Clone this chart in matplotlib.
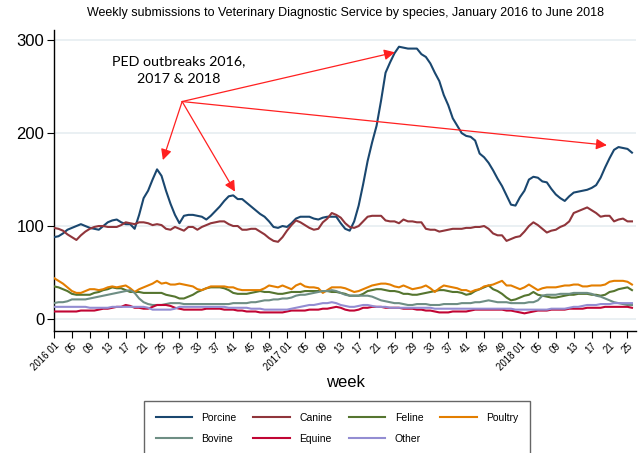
# Weekly submissions to VDS by species, 2016-01 to 2018-25
import matplotlib
matplotlib.use('Agg')
import matplotlib.pyplot as plt

plt.rcParams['font.family'] = ['Liberation Sans', 'DejaVu Sans']

# weekly counts, week index 0 = 2016 week 01
porcine = [88, 89, 92, 96, 98, 100, 102, 100, 98, 97,
           96, 100, 104, 106, 107, 104, 102, 102, 97, 112,
           130, 138, 150, 161, 154, 138, 124, 112, 103, 111,
           112, 112, 111, 110, 107, 111, 116, 121, 127, 132,
           133, 129, 129, 125, 121, 117, 113, 110, 105, 99,
           98, 100, 99, 103, 108, 110, 110, 110, 108, 107,
           109, 110, 110, 110, 103, 97, 95, 105, 122, 145,
           170, 190, 208, 235, 265, 276, 286, 293, 292, 291,
           291, 291, 285, 282, 275, 265, 256, 241, 230, 216,
           208, 200, 197, 196, 192, 178, 174, 168, 160, 151,
           143, 133, 123, 122, 131, 138, 150, 153, 152, 148,
           147, 140, 134, 130, 127, 132, 136, 137, 138, 139,
           141, 144, 152, 163, 173, 182, 185, 184, 183, 179]

canine = [98, 97, 95, 91, 88, 85, 90, 94, 97, 99,
          100, 100, 99, 99, 99, 101, 104, 103, 102, 104,
          104, 103, 101, 102, 101, 97, 96, 99, 97, 95,
          99, 99, 96, 99, 101, 103, 104, 105, 105, 102,
          100, 100, 96, 96, 97, 97, 94, 91, 87, 84,
          83, 88, 95, 101, 106, 104, 101, 98, 96, 97,
          104, 108, 114, 112, 109, 103, 99, 98, 100, 105,
          110, 111, 111, 111, 106, 105, 105, 103, 107, 105,
          105, 104, 104, 97, 96, 96, 94, 95, 96, 97,
          97, 97, 98, 98, 99, 99, 100, 97, 92, 90,
          90, 84, 86, 88, 89, 94, 100, 104, 101, 97,
          93, 95, 96, 99, 101, 105, 114, 116, 118, 120,
          117, 114, 110, 111, 111, 105, 107, 108, 105, 105]

feline = [35, 34, 32, 30, 27, 26, 26, 26, 26, 28,
          29, 31, 32, 34, 33, 33, 31, 29, 29, 29,
          28, 28, 28, 28, 28, 26, 25, 24, 22, 22,
          24, 26, 29, 31, 33, 34, 34, 34, 33, 31,
          28, 27, 27, 27, 28, 29, 30, 29, 29, 28,
          27, 27, 28, 29, 29, 29, 30, 30, 30, 30,
          30, 30, 29, 29, 28, 27, 25, 25, 25, 27,
          30, 31, 32, 32, 31, 30, 30, 29, 27, 27,
          26, 26, 27, 28, 29, 30, 31, 31, 30, 29,
          29, 28, 26, 27, 30, 32, 34, 36, 32, 30,
          27, 23, 20, 21, 23, 25, 26, 29, 26, 25,
          24, 23, 23, 24, 25, 26, 26, 27, 27, 27,
          26, 26, 25, 26, 29, 30, 32, 33, 34, 31]

poultry = [44, 41, 38, 34, 30, 28, 28, 30, 32, 32,
           31, 32, 34, 35, 34, 35, 36, 33, 29, 32,
           34, 36, 38, 41, 38, 39, 37, 37, 38, 37,
           36, 35, 32, 31, 33, 35, 35, 35, 35, 34,
           34, 32, 31, 31, 31, 31, 31, 33, 36, 35,
           34, 36, 34, 32, 36, 38, 35, 34, 34, 33,
           28, 31, 34, 34, 34, 33, 31, 29, 30, 32,
           34, 36, 37, 38, 38, 37, 35, 34, 36, 34,
           32, 33, 34, 36, 33, 29, 33, 36, 35, 34,
           33, 31, 31, 29, 31, 32, 35, 36, 37, 39,
           41, 36, 36, 34, 32, 34, 37, 34, 31, 33,
           34, 34, 34, 35, 36, 36, 37, 37, 35, 35,
           36, 36, 36, 37, 40, 41, 41, 41, 40, 37]

bovine = [17, 18, 18, 19, 21, 21, 21, 21, 22, 23,
          24, 25, 26, 27, 28, 29, 30, 31, 28, 22,
          18, 16, 15, 15, 15, 16, 17, 17, 17, 16,
          16, 16, 16, 16, 16, 16, 16, 16, 16, 16,
          17, 17, 17, 17, 18, 18, 19, 20, 20, 21,
          21, 22, 22, 23, 25, 26, 26, 27, 28, 29,
          30, 30, 31, 30, 28, 26, 25, 25, 25, 25,
          25, 24, 22, 20, 19, 18, 17, 17, 16, 15,
          15, 16, 16, 16, 15, 15, 15, 16, 16, 16,
          16, 17, 17, 17, 18, 18, 19, 20, 19, 18,
          18, 18, 17, 17, 17, 17, 18, 18, 20, 25,
          26, 26, 26, 27, 27, 27, 28, 28, 28, 28,
          27, 25, 24, 22, 20, 18, 17, 16, 15, 15]

equine = [8, 8, 8, 8, 8, 8, 9, 9, 9, 9,
          10, 11, 11, 12, 13, 13, 15, 14, 12, 12,
          11, 11, 13, 15, 15, 15, 14, 12, 11, 10,
          10, 10, 10, 10, 11, 11, 11, 11, 10, 10,
          10, 9, 9, 8, 8, 8, 7, 7, 7, 7,
          7, 7, 8, 9, 9, 9, 9, 10, 10, 10,
          11, 11, 12, 13, 12, 10, 9, 9, 10, 12,
          12, 13, 13, 13, 12, 12, 12, 12, 11, 11,
          11, 10, 10, 9, 9, 8, 7, 7, 7, 8,
          8, 8, 8, 9, 10, 10, 10, 10, 10, 10,
          10, 9, 9, 8, 7, 6, 7, 8, 9, 9,
          9, 10, 10, 10, 10, 11, 11, 11, 11, 12,
          12, 12, 12, 13, 13, 13, 13, 13, 13, 12]

other = [13, 13, 13, 13, 13, 13, 13, 13, 12, 12,
         12, 12, 12, 13, 13, 13, 13, 13, 13, 13,
         13, 12, 10, 10, 10, 10, 10, 11, 13, 13,
         13, 13, 13, 13, 13, 13, 13, 13, 13, 12,
         12, 12, 12, 12, 11, 11, 11, 10, 10, 10,
         10, 10, 10, 11, 12, 13, 14, 15, 15, 16,
         17, 17, 18, 17, 15, 14, 13, 13, 14, 15,
         15, 14, 13, 13, 13, 12, 12, 12, 12, 12,
         12, 12, 12, 12, 12, 11, 11, 11, 11, 11,
         11, 11, 11, 11, 11, 11, 11, 11, 11, 11,
         11, 11, 11, 10, 10, 10, 10, 10, 10, 10,
         10, 11, 11, 11, 11, 12, 13, 13, 14, 15,
         15, 15, 16, 16, 16, 17, 17, 17, 17, 17]

tick_labels = ['2016 01', '05', '09', '13', '17', '21', '25', '29', '33', '37', '41', '45', '49',
               '2017 01', '05', '09', '13', '17', '21', '25', '29', '33', '37', '41', '45', '49',
               '2018 01', '05', '09', '13', '17', '21', '25']

series = [('Porcine', porcine, '#1a476f'),
          ('Canine', canine, '#90353b'),
          ('Feline', feline, '#55752f'),
          ('Poultry', poultry, '#e37e00'),
          ('Bovine', bovine, '#6e8e84'),
          ('Equine', equine, '#c10534'),
          ('Other', other, '#938dd2')]

fig = plt.figure(figsize=(6.41, 4.53), dpi=100)
ax = fig.add_axes([54 / 641, 122 / 453, 582 / 641, 301 / 453])

weeks = list(range(len(porcine)))
lines = {}
for name, vals, col in series:
    ln, = ax.plot(weeks, vals, color=col, lw=1.5, label=name, zorder=3)
    lines[name] = ln

ax.set_xlim(0, 129.9)
ax.set_ylim(-13, 311)
ax.set_yticks([0, 100, 200, 300])
ax.grid(axis='y', color='#e6edf1', lw=1.2, zorder=0)
ax.set_xticks(range(0, len(porcine), 4))
ax.set_xticklabels(tick_labels, rotation=45, ha='right', rotation_mode='anchor', fontsize=7)
ax.tick_params(axis='x', length=5, width=0.8, pad=2)
ax.tick_params(axis='y', length=5, width=0.8, labelsize=12, pad=2)
for s in ['top', 'right']:
    ax.spines[s].set_visible(False)
ax.spines['left'].set_linewidth(1)
ax.spines['bottom'].set_linewidth(1)
ax.set_xlabel('week', fontsize=12, labelpad=2)

fig.text(0.539, 0.972, 'Weekly submissions to Veterinary Diagnostic Service by species, '
         'January 2016 to June 2018', ha='center', va='center', fontsize=9)

# PED outbreak annotation
ax.text(27.9, 268, 'PED outbreaks 2016,\n2017 & 2018', ha='center', va='center',
        fontsize=10.3, family='Lato', linespacing=1.6)
origin = (28.6, 234)
for tip in [(24.3, 171), (40.4, 137), (76.1, 287), (123.4, 187)]:
    ax.annotate('', xy=tip, xytext=origin,
                arrowprops=dict(arrowstyle='-|>', color='#ff2020', lw=0.9,
                                mutation_scale=16, shrinkA=0, shrinkB=0))

order = ['Porcine', 'Bovine', 'Canine', 'Equine', 'Feline', 'Other', 'Poultry']
leg = fig.legend([lines[n] for n in order], order, ncol=4, loc='upper left',
                 bbox_to_anchor=(139 / 641, 57 / 453), fontsize=7.5, frameon=True,
                 fancybox=False, edgecolor='#404040', handlelength=3.5,
                 handletextpad=0.9, columnspacing=1.6, labelspacing=1.1, borderpad=1.1)
leg.get_frame().set_linewidth(1)

fig.savefig('out.png', dpi=100)
